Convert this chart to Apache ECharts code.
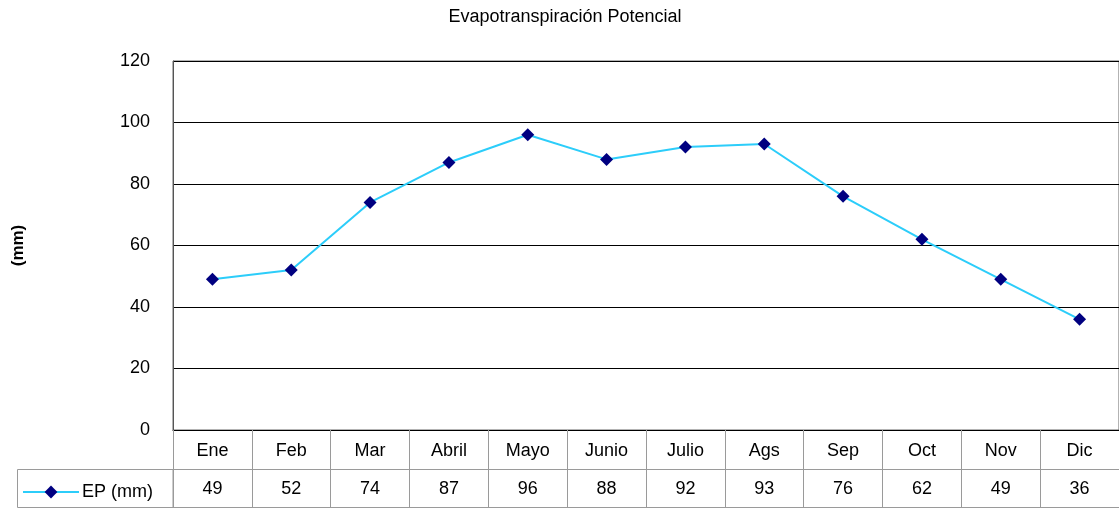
<!DOCTYPE html>
<html>
<head>
<meta charset="utf-8">
<script src="https://cdn.jsdelivr.net/npm/echarts@6/dist/echarts.min.js"></script>
<style>
  html, body { margin: 0; padding: 0; background: #fff; }
  #chart { width: 1119px; height: 508px; }
</style>
</head>
<body>
<div id="chart"></div>
<script>
// Monthly potential evapotranspiration (mm)
const months = ['Ene', 'Feb', 'Mar', 'Abril', 'Mayo', 'Junio', 'Julio', 'Ags', 'Sep', 'Oct', 'Nov', 'Dic'];
const epValues = [49, 52, 74, 87, 96, 88, 92, 93, 76, 62, 49, 36];
const seriesName = 'EP (mm)';
const chartTitle = 'Evapotranspiración Potencial';
const yAxisName = '(mm)';

const FONT = '"Liberation Sans", Arial, sans-serif';
const TABLE_GRAY = '#9a9a9a';

const chart = echarts.init(document.getElementById('chart'), null, { renderer: 'canvas' });

chart.setOption({
  animation: false,
  backgroundColor: '#ffffff',
  textStyle: { fontFamily: FONT },
  title: {
    text: chartTitle,
    left: 560,
    textAlign: 'center',
    top: 3,
    textStyle: { fontFamily: FONT, fontSize: 18, fontWeight: 'normal', color: '#000' }
  },
  legend: {
    data: [seriesName],
    left: 17,
    top: 478,
    itemWidth: 56,
    itemHeight: 16,
    itemGap: 4,
    textStyle: { fontFamily: FONT, fontSize: 18, color: '#000', padding: [0, 0, 0, -2] }
  },
  grid: { left: 173, right: 0, top: 61, bottom: 78, show: true, borderColor: '#666', borderWidth: 1 },
  xAxis: [
    {
      // category header row of the data table
      type: 'category',
      data: months,
      position: 'bottom',
      boundaryGap: true,
      axisLine: { show: true, lineStyle: { color: '#000', width: 1 } },
      axisTick: { show: true, length: 77, lineStyle: { color: TABLE_GRAY, width: 1 } },
      axisLabel: { margin: 12, fontSize: 18, color: '#000', fontFamily: FONT, interval: 0 },
      splitLine: { show: false }
    },
    {
      // value row of the data table
      type: 'category',
      data: epValues.map(String),
      position: 'bottom',
      offset: 39,
      boundaryGap: true,
      axisLine: { show: true, lineStyle: { color: TABLE_GRAY, width: 1 } },
      axisTick: { show: false },
      axisLabel: { margin: 11, fontSize: 18, color: '#000', fontFamily: FONT, interval: 0 },
      splitLine: { show: false }
    },
    {
      // bottom edge of the data table
      type: 'category',
      data: months,
      position: 'bottom',
      offset: 77,
      axisLine: { show: true, lineStyle: { color: TABLE_GRAY, width: 1 } },
      axisTick: { show: false },
      axisLabel: { show: false },
      splitLine: { show: false }
    }
  ],
  yAxis: {
    type: 'value',
    min: 0,
    max: 120,
    interval: 20,
    name: yAxisName,
    nameLocation: 'middle',
    nameGap: 146,
    nameRotate: 90,
    nameTextStyle: { fontFamily: FONT, fontSize: 17, fontWeight: 'bold', color: '#000' },
    axisLine: { show: true, lineStyle: { color: '#555', width: 1 } },
    axisTick: { show: false },
    axisLabel: { margin: 23, fontSize: 18, color: '#000', fontFamily: FONT },
    splitLine: { show: true, lineStyle: { color: '#000', width: 1 } }
  },
  graphic: [
    {
      // legend cell of the data table
      type: 'rect',
      shape: { x: 17.5, y: 469.5, width: 155.5, height: 38 },
      style: { fill: 'none', stroke: TABLE_GRAY, lineWidth: 1 },
      z: 1
    }
  ],
  series: [
    {
      name: seriesName,
      type: 'line',
      xAxisIndex: 0,
      data: epValues,
      symbol: 'diamond',
      symbolSize: 13,
      lineStyle: { color: '#2ccdfa', width: 2 },
      itemStyle: { color: '#000080', borderColor: '#000080', borderWidth: 0 },
      z: 3
    }
  ]
});
</script>
</body>
</html>
